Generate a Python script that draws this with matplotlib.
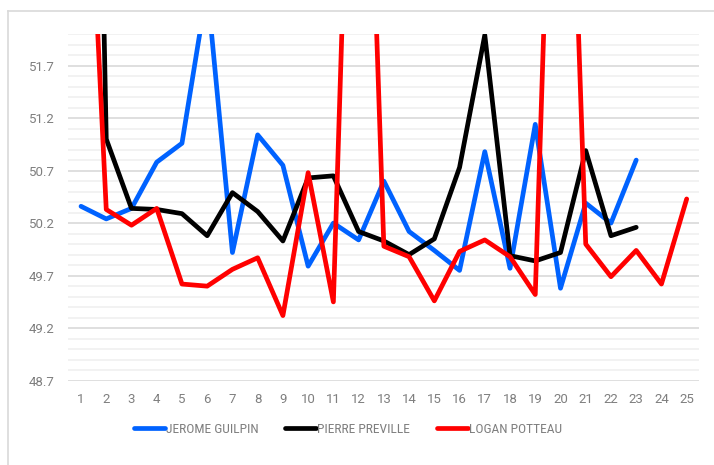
import numpy as np
import matplotlib
matplotlib.use('Agg')
import matplotlib.pyplot as plt
from matplotlib.lines import Line2D
from matplotlib.ticker import MultipleLocator

# Donnees (tours 1..25)
laps = list(range(1, 26))
guilpin = [50.36, 50.24, 50.34, 50.78, 50.96, 52.44, 49.92, 51.04, 50.75, 49.79,
           50.20, 50.04, 50.60, 50.12, 49.94, 49.75, 50.88, 49.77, 51.14, 49.58,
           50.39, 50.20, 50.80]
preville = [63.0, 51.00, 50.34, 50.33, 50.29, 50.08, 50.49, 50.31, 50.03, 50.63,
            50.65, 50.12, 50.03, 49.90, 50.05, 50.73, 51.99, 49.89, 49.84, 49.92,
            50.89, 50.08, 50.16]
potteau = [55.3, 50.33, 50.18, 50.34, 49.62, 49.60, 49.76, 49.87, 49.32, 50.68,
           49.45, 57.1, 49.98, 49.88, 49.46, 49.93, 50.04, 49.88, 49.52, 57.0,
           50.00, 49.69, 49.94, 49.62, 50.43]
names = ['JEROME GUILPIN', 'PIERRE PREVILLE', 'LOGAN POTTEAU']
colors = ['#0062FF', '#000000', '#FF0000']

fig = plt.figure(figsize=(7.14, 4.65), dpi=100)
ax = fig.add_axes([68.4/714, 1-380.7/465, (699.3-68.4)/714, (380.7-34)/465])

for vals, c, n in zip([guilpin, preville, potteau], colors, names):
    ax.plot(laps[:len(vals)], vals, color=c, lw=3.4, label=n,
            solid_joinstyle='round', solid_capstyle='round')

ax.set_xlim(0.5, 25.5)
ax.set_ylim(48.7, 52.0)
ax.set_xticks(laps)
ax.set_yticks([48.7, 49.2, 49.7, 50.2, 50.7, 51.2, 51.7])
ax.yaxis.set_minor_locator(MultipleLocator(0.1))
ax.grid(True, which='major', axis='y', color='#d9d9d9', lw=1.2)
ax.grid(True, which='minor', axis='y', color='#f0f0f0', lw=1.2)
ax.set_axisbelow(True)
for s in ax.spines.values():
    s.set_visible(False)
ax.tick_params(which='both', length=0)
ax.tick_params(axis='y', pad=10)
ax.tick_params(axis='x', pad=9)
for lab in ax.get_xticklabels() + ax.get_yticklabels():
    lab.set_fontfamily('Roboto')
    lab.set_fontsize(9.5)
    lab.set_color('#7f7f7f')

# legende
handles = [Line2D([0], [0], color=c, lw=3.4, solid_capstyle='round') for c in colors]
leg = fig.legend(handles, names, loc='center', bbox_to_anchor=(348/714, 1-429/465),
                 ncol=3, frameon=False, handlelength=2.3, handletextpad=0.05,
                 columnspacing=2.0, prop={'family': 'Roboto Condensed', 'size': 9.7})
for t in leg.get_texts():
    t.set_color('#7f7f7f')

# cadre
fig.add_artist(Line2D([8/714, 8/714], [0, 1-11/465], color='#d9d9d9', lw=1.2))
fig.add_artist(Line2D([8/714, 1], [1-11/465, 1-11/465], color='#d9d9d9', lw=1.2))

fig.savefig('out.png', dpi=100)
